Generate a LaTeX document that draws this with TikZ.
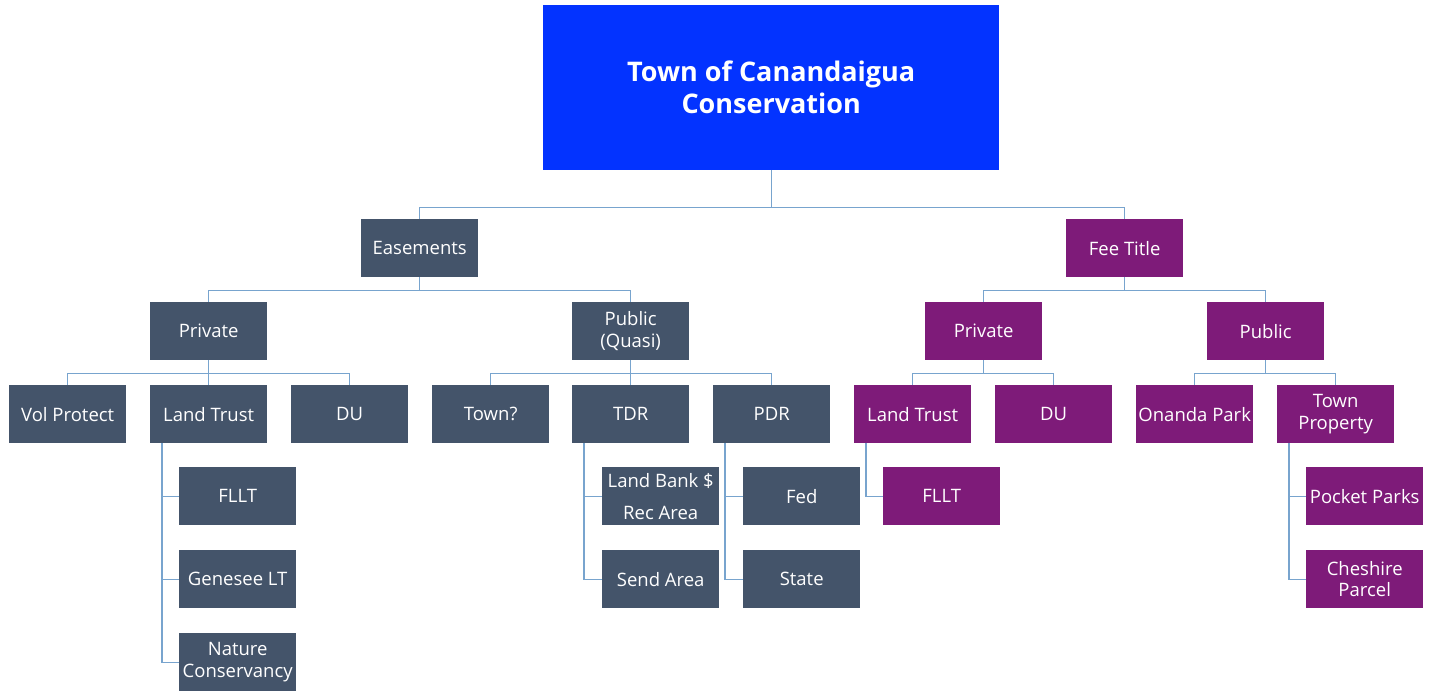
\documentclass[tikz,border=0pt]{standalone}
\usepackage{fontspec}
\setmainfont{Open Sans}
\definecolor{slate}{RGB}{68,84,106}
\definecolor{plum}{RGB}{126,27,121}
\definecolor{topblue}{RGB}{3,51,255}
\definecolor{link}{RGB}{120,164,206}
\begin{document}
\begin{tikzpicture}[x=1pt,y=-1pt,
  box/.style={rectangle, anchor=north west, minimum width=117pt, minimum height=58pt, inner sep=0pt,
    text=white, align=center, font=\fontsize{18.5}{21.5}\selectfont},
  gbox/.style={box, fill=slate},
  pbox/.style={box, fill=plum},
  conn/.style={draw=link, line width=1.4pt}]
\useasboundingbox (0,0) rectangle (1437,692);
% top
\node[rectangle, anchor=north west, minimum width=456pt, minimum height=165pt, fill=topblue, text=white,
  align=center, font=\fontsize{27}{32}\selectfont\bfseries] (top) at (543,5) {Town of Canandaigua\\Conservation};
% level 1
\node[gbox] (eas) at (361,219) {Easements};
\node[pbox] (fee) at (1066,219) {Fee Title};
% level 2
\node[gbox] (epriv) at (150,302) {Private};
\node[gbox] (epub) at (572,302) {Public\\(Quasi)};
\node[pbox] (fpriv) at (925,302) {Private};
\node[pbox] (fpub) at (1207,302) {Public};
% level 3
\node[gbox] (vol) at (9,385) {Vol Protect};
\node[gbox] (elt) at (150,385) {Land Trust};
\node[gbox] (edu) at (291,385) {DU};
\node[gbox] (town) at (432,385) {Town?};
\node[gbox] (tdr) at (572,385) {TDR};
\node[gbox] (pdr) at (713,385) {PDR};
\node[pbox] (flt) at (854,385) {Land Trust};
\node[pbox] (fdu) at (995,385) {DU};
\node[pbox] (onanda) at (1136,385) {Onanda Park};
\node[pbox] (tprop) at (1277,385) {Town\\Property};
% level 4
\node[gbox] (efllt) at (179,467) {FLLT};
\node[gbox] (gen) at (179,550) {Genesee LT};
\node[gbox] (nat) at (179,633) {Nature\\Conservancy};
\node[gbox] (lbank) at (602,467) {Land Bank \$\\[10.5pt]Rec Area};
\node[gbox] (send) at (602,550) {Send Area};
\node[gbox] (fed) at (743,467) {Fed};
\node[gbox] (state) at (743,550) {State};
\node[pbox] (ffllt) at (883,467) {FLLT};
\node[pbox] (pocket) at (1306,467) {Pocket Parks};
\node[pbox] (cheshire) at (1306,550) {Cheshire\\Parcel};
% connectors
\draw[conn] (top.south) -- ++(0,37) -| (eas.north);
\draw[conn] (top.south) -- ++(0,37) -| (fee.north);
\draw[conn] (eas.south) -- ++(0,13) -| (epriv.north);
\draw[conn] (eas.south) -- ++(0,13) -| (epub.north);
\draw[conn] (fee.south) -- ++(0,13) -| (fpriv.north);
\draw[conn] (fee.south) -- ++(0,13) -| (fpub.north);
\foreach \c in {vol,elt,edu} \draw[conn] (epriv.south) -- ++(0,13) -| (\c.north);
\foreach \c in {town,tdr,pdr} \draw[conn] (epub.south) -- ++(0,13) -| (\c.north);
\foreach \c in {flt,fdu} \draw[conn] (fpriv.south) -- ++(0,13) -| (\c.north);
\foreach \c in {onanda,tprop} \draw[conn] (fpub.south) -- ++(0,13) -| (\c.north);
\foreach \c in {efllt,gen,nat} \draw[conn] ([xshift=12pt]elt.south west) |- (\c.west);
\foreach \c in {lbank,send} \draw[conn] ([xshift=12pt]tdr.south west) |- (\c.west);
\foreach \c in {fed,state} \draw[conn] ([xshift=12pt]pdr.south west) |- (\c.west);
\draw[conn] ([xshift=12pt]flt.south west) |- (ffllt.west);
\foreach \c in {pocket,cheshire} \draw[conn] ([xshift=12pt]tprop.south west) |- (\c.west);
\end{tikzpicture}
\end{document}
